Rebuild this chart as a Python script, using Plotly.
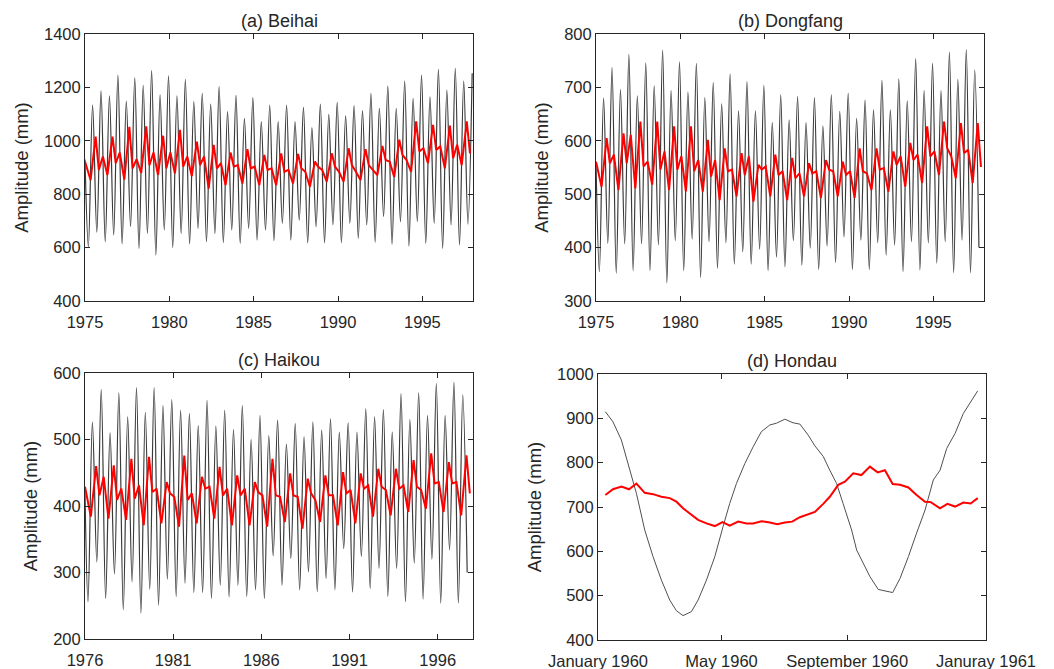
import plotly.graph_objects as go

# ---------------- data ----------------
# Panels a-c: black series given as alternating trough/peak extremes (quarter-year spacing)
a_start = (1975.0, 930)
a_ext_t0 = 1975.2
a_troughs = [604, 658, 622, 647, 614, 678, 597, 653, 572, 666, 600, 653, 614, 672, 622, 653, 619, 666, 616, 672, 628, 666, 626,
             691, 628, 703, 618, 678, 618, 685, 618, 691, 635, 685, 620, 716, 613, 697, 606, 697, 616, 691, 597, 685, 610, 688]
a_peaks = [1134, 1187, 1168, 1246, 1149, 1236, 1208, 1263, 1172, 1243, 1168, 1230, 1147, 1178, 1137, 1203, 1109, 1170, 1084, 1162, 1072, 1134, 1072,
           1134, 1072, 1125, 1049, 1137, 1099, 1144, 1093, 1132, 1113, 1178, 1122, 1205, 1122, 1224, 1159, 1246, 1165, 1268, 1190, 1271, 1224, 1253]

b_start = (1975.0, 560)
b_ext_t0 = 1975.2
b_troughs = [355, 408, 352, 407, 357, 407, 357, 405, 334, 413, 357, 416, 344, 411, 361, 409, 369, 392, 369, 397, 357, 382, 364,
             413, 367, 399, 359, 403, 372, 420, 359, 414, 359, 409, 386, 405, 355, 411, 358, 409, 371, 411, 353, 414, 353, 400]
b_peaks = [680, 737, 696, 762, 684, 746, 703, 770, 694, 748, 691, 745, 681, 709, 669, 725, 656, 711, 656, 704, 634, 686, 639,
           683, 634, 681, 628, 686, 655, 689, 642, 676, 658, 713, 658, 716, 675, 754, 694, 745, 694, 766, 715, 771, 733]

c_start = (1976.0, 420)
c_ext_t0 = 1976.17
c_troughs = [256, 316, 261, 298, 244, 286, 239, 275, 251, 290, 264, 284, 270, 270, 261, 281, 263, 281, 264, 274, 261, 325,
             281, 321, 274, 301, 271, 291, 274, 336, 271, 324, 276, 306, 264, 306, 256, 314, 260, 320, 254, 334, 254, 300]
c_peaks = [526, 575, 510, 570, 534, 578, 541, 578, 551, 560, 544, 539, 521, 559, 520, 544, 515, 551, 500, 536, 506, 529,
           493, 524, 504, 526, 514, 531, 511, 525, 511, 546, 534, 545, 511, 569, 530, 570, 536, 584, 536, 586, 567]

# Red series: per year [secondary peak, trough, main peak, dip]
red_offsets = [0.06, 0.33, 0.63, 0.82]
a_red_years = list(range(1975, 1998))
a_red = [[922, 853, 1016, 891], [941, 872, 1016, 916], [956, 855, 1052, 897], [931, 880, 1054, 909],
         [956, 872, 1019, 897], [956, 878, 1041, 903], [941, 868, 997, 909], [941, 821, 985, 897],
         [916, 834, 956, 903], [909, 840, 969, 897], [903, 834, 947, 891], [897, 834, 953, 884],
         [891, 840, 951, 897], [884, 828, 922, 903], [891, 847, 953, 903], [884, 847, 972, 909],
         [884, 853, 969, 909], [891, 872, 981, 928], [922, 865, 1004, 947], [928, 884, 1073, 960],
         [972, 916, 1060, 966], [979, 897, 1057, 935], [985, 909, 1073, 953]]

b_red_years = list(range(1975, 1998))
b_red = [[561, 514, 605, 558], [574, 508, 614, 558], [611, 511, 636, 552], [561, 518, 636, 546],
         [580, 508, 627, 546], [571, 505, 627, 543], [564, 505, 602, 533], [564, 489, 586, 543],
         [546, 496, 577, 536], [571, 486, 555, 546], [552, 496, 574, 536], [543, 489, 568, 530],
         [539, 496, 558, 539], [543, 493, 564, 546], [543, 496, 561, 536], [543, 493, 586, 543],
         [539, 508, 586, 546], [549, 505, 580, 555], [571, 514, 596, 564], [574, 521, 627, 571],
         [580, 536, 636, 586], [571, 530, 633, 577], [583, 521, 633, 551]]

c_red_years = list(range(1976, 1998))
c_red = [[429, 384, 460, 416], [444, 381, 461, 409], [426, 379, 471, 411], [431, 371, 474, 421],
         [426, 374, 436, 419], [414, 369, 476, 409], [419, 374, 444, 426], [429, 381, 459, 416],
         [426, 371, 446, 416], [426, 371, 436, 421], [416, 369, 471, 416], [414, 376, 449, 416],
         [414, 366, 441, 419], [409, 376, 446, 416], [416, 371, 451, 419], [424, 374, 449, 426],
         [431, 384, 456, 429], [424, 386, 456, 426], [431, 391, 469, 429], [424, 396, 479, 434],
         [436, 391, 466, 434], [436, 386, 476, 419]]

# Panel d: day of year 1960
d_days = [7.2, 14.7, 22.9, 30.4, 37.6, 45.8, 53.9, 62.1, 70.3, 76.8, 83.3, 91.5, 98, 106.2, 114.4, 122.5, 129,
          135.6, 143.8, 152, 160, 168.3, 174.8, 183, 191, 197.7, 205.9, 212.4, 220.6, 227, 233.7, 240, 248.4,
          253.3, 258, 266.3, 274.5, 281, 288.6, 295.8, 304, 312, 320.3, 328.4, 335, 341.5, 349.7, 357.8, 364.4, 371.9]
d_black = [915, 892, 851, 787, 731, 648, 588, 535, 490, 466, 455, 464, 490, 535, 588, 656, 708,
           753, 798, 836, 870, 885, 889, 898, 890, 887, 862, 838, 814, 783, 753, 708, 648,
           603, 580, 543, 514, 511, 507, 539, 588, 641, 693, 761, 783, 832, 866, 911, 934, 962]
d_red_days = [7.2, 14.7, 22.9, 30.4, 37.6, 45.8, 53.9, 62.1, 70.3, 76.8, 83.3, 91.5, 98, 106.2, 114.4, 121.9,
              129, 137.3, 145.4, 152, 160, 168.3, 175.5, 183, 190.2, 197.7, 205.9, 212.4, 220.6, 227, 235.3,
              241.8, 250, 258, 266.3, 273.9, 281, 288.6, 295.8, 304, 312, 320.3, 325.9, 335, 342.2, 349.7, 357.8, 365, 371.9]
d_red = [727, 740, 746, 740, 753, 732, 729, 723, 720, 712, 697, 682, 671, 663, 657, 666,
         658, 667, 663, 663, 668, 665, 661, 665, 667, 677, 683, 689, 707, 723, 750,
         757, 776, 772, 791, 778, 783, 752, 750, 744, 727, 712, 711, 697, 707, 701, 710, 708, 720]
d_ticks = [0, 121, 244, 380]
d_ticklabels = ["January 1960", "May 1960", "September 1960", "Januray 1961"]

titles = ["(a) Beihai", "(b) Dongfang", "(c) Haikou", "(d) Hondau"]


def black_series(start, t0, troughs, peaks):
    xs, ys = [start[0]], [start[1]]
    n = max(len(troughs), len(peaks))
    k = 0
    for i in range(n):
        if i < len(troughs):
            xs.append(t0 + 0.25 * k); ys.append(troughs[i]); k += 1
        if i < len(peaks):
            xs.append(t0 + 0.25 * k); ys.append(peaks[i]); k += 1
    return xs, ys


def red_series(years, vals):
    xs, ys = [], []
    for j, (yr, v) in enumerate(zip(years, vals)):
        for m, (off, val) in enumerate(zip(red_offsets, v)):
            xs.append(yr if (j == 0 and m == 0) else yr + off)
            ys.append(val)
    return xs, ys


BLACK = dict(color="#3a3a3a", width=1.2, shape="spline", smoothing=1.0)
RED = dict(color="#ff0000", width=2)

fig = go.Figure()
panels = [
    (black_series(a_start, a_ext_t0, a_troughs, a_peaks), red_series(a_red_years, a_red), "x", "y"),
    (black_series(b_start, b_ext_t0, b_troughs, b_peaks), red_series(b_red_years, b_red), "x2", "y2"),
    (black_series(c_start, c_ext_t0, c_troughs, c_peaks), red_series(c_red_years, c_red), "x3", "y3"),
]
for (bx, by), (rx, ry), xa, ya in panels:
    fig.add_trace(go.Scatter(x=bx, y=by, mode="lines", line=BLACK, xaxis=xa, yaxis=ya, showlegend=False))
    fig.add_trace(go.Scatter(x=rx, y=ry, mode="lines", line=RED, xaxis=xa, yaxis=ya, showlegend=False))

fig.add_trace(go.Scatter(x=d_days, y=d_black, mode="lines", line=dict(color="#505050", width=1),
                         xaxis="x4", yaxis="y4", showlegend=False))
fig.add_trace(go.Scatter(x=d_red_days, y=d_red, mode="lines", line=RED, xaxis="x4", yaxis="y4", showlegend=False))

W, H = 1054, 669
FONT = "Liberation Sans, Arial, Helvetica, sans-serif"
AX = dict(showline=True, linecolor="#262626", linewidth=1, mirror="ticks", ticks="inside", ticklen=5,
          tickcolor="#262626", showgrid=False, zeroline=False, automargin=False,
          tickfont=dict(family=FONT, size=16.5, color="#262626"))
XAX = dict(AX, ticklabelstandoff=6)

boxes = {  # left, right, top, bottom in pixels
    "a": (85, 473, 34, 301),
    "b": (596, 984, 34, 301),
    "c": (85, 473, 373, 639),
    "d": (598, 986, 374, 640),
}


def dom(key):
    l, r, t, b = boxes[key]
    return [l / W, r / W], [1 - b / H, 1 - t / H]


ytitle = dict(text="Amplitude (mm)", font=dict(family=FONT, size=18.5, color="#262626"), standoff=10)
layout = dict(width=W, height=H, margin=dict(l=0, r=0, t=0, b=0, autoexpand=False), plot_bgcolor="white",
              paper_bgcolor="white", showlegend=False)

xd, yd = dom("a")
layout["xaxis"] = dict(XAX, domain=xd, anchor="y", range=[1975, 1998], tickvals=[1975, 1980, 1985, 1990, 1995])
layout["yaxis"] = dict(AX, domain=yd, anchor="x", range=[400, 1400], dtick=200, title=ytitle)
xd, yd = dom("b")
layout["xaxis2"] = dict(XAX, domain=xd, anchor="y2", range=[1975, 1998], tickvals=[1975, 1980, 1985, 1990, 1995])
layout["yaxis2"] = dict(AX, domain=yd, anchor="x2", range=[300, 800], dtick=100, title=ytitle)
xd, yd = dom("c")
layout["xaxis3"] = dict(XAX, domain=xd, anchor="y3", range=[1976, 1998], tickvals=[1976, 1981, 1986, 1991, 1996])
layout["yaxis3"] = dict(AX, domain=yd, anchor="x3", range=[200, 600], dtick=100, title=ytitle)
xd, yd = dom("d")
layout["xaxis4"] = dict(XAX, domain=xd, anchor="y4", range=[0, 380], tickvals=d_ticks, ticktext=d_ticklabels)
layout["yaxis4"] = dict(AX, domain=yd, anchor="x4", range=[400, 1000], dtick=100, title=ytitle)

ann = []
for key, t in zip("abcd", titles):
    l, r, top, b = boxes[key]
    ann.append(dict(text=t, x=(l + r) / 2 / W, y=1 - (top - 1) / H, xref="paper", yref="paper",
                    xanchor="center", yanchor="bottom", showarrow=False,
                    font=dict(family=FONT, size=18, color="#262626")))
layout["annotations"] = ann

fig.update_layout(**layout)
fig.write_html("out.html", config={"displayModeBar": False},
               post_script="document.body.style.margin='0';document.body.style.overflow='hidden';")
